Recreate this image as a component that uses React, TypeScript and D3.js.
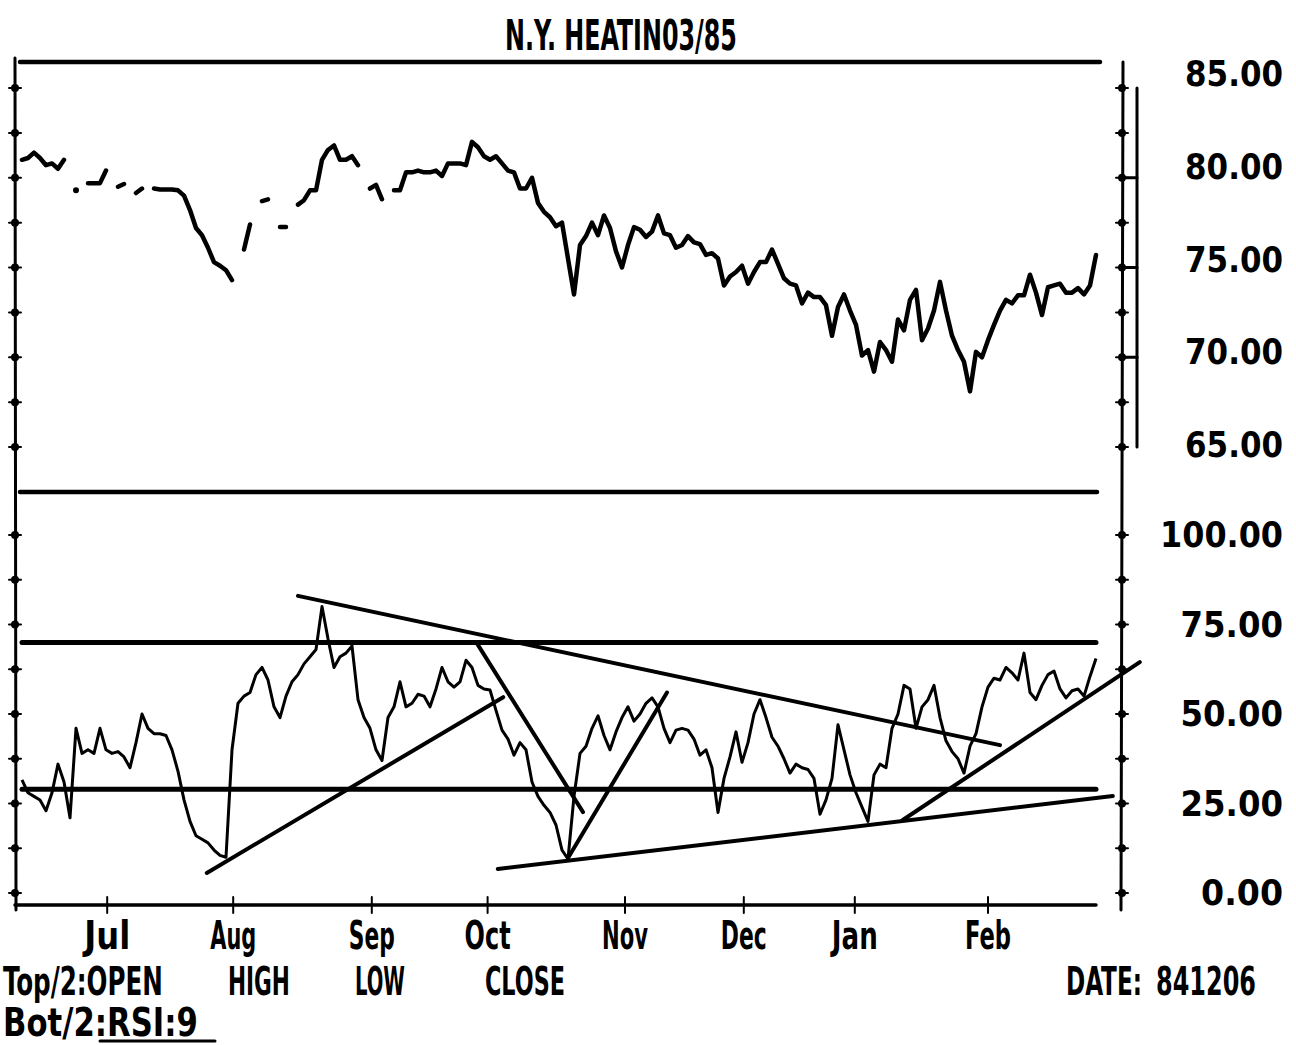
import * as React from 'react';
import {useEffect, useRef} from 'react';
import * as d3 from 'd3';

const title = 'N.Y. HEATIN03/85';

// daily closes, cents per gallon (null = no print that day)
const closes: (number | null)[] = [
  81.0, 81.1, 81.4, 81.1, 80.7, 80.8, 80.5, 81.0, null, 79.3,
  null, 79.7, 79.7, 79.7, 80.4, null, 79.5, 79.65, null, 79.15,
  79.4, null, 79.4, 79.35, 79.35, 79.35, 79.3, 79.0, 78.2, 77.2,
  76.8, 76.1, 75.3, 75.1, 74.85, 74.3, null, 76.0, 77.4, null,
  78.7, 78.8, null, 77.25, 77.25, null, 78.5, 78.75, 79.3, 79.3,
  81.0, 81.55, 81.8, 81.0, 81.0, 81.2, 80.7, null, 79.4, 79.6,
  78.8, null, 79.3, 79.3, 80.3, 80.3, 80.4, 80.3, 80.3, 80.4,
  80.1, 80.8, 80.8, 80.8, 80.7, 82.0, 81.7, 81.2, 81.0, 81.2,
  80.8, 80.4, 80.3, 79.4, 79.4, 80.0, 78.6, 78.1, 77.8, 77.3,
  77.5, 75.5, 73.5, 76.25, 76.75, 77.5, 76.8, 77.9, 77.2, 75.9,
  75.0, 76.25, 77.25, 77.1, 76.7, 77.0, 77.9, 76.9, 76.8, 76.1,
  76.25, 76.75, 76.4, 76.3, 75.7, 75.8, 75.5, 74.0, 74.5, 74.75,
  75.1, 74.1, 74.75, 75.3, 75.3, 76.0, 75.2, 74.4, 74.1, 74.0,
  73.0, 73.6, 73.35, 73.35, 72.9, 71.2, 72.8, 73.5, 72.6, 71.8,
  70.1, 70.4, 69.2, 70.85, 70.4, 69.75, 72.1, 71.5, 73.2, 73.75,
  70.95, 71.6, 72.6, 74.2, 72.6, 71.2, 70.4, 69.75, 68.1, 70.3,
  70.0, 70.95, 71.8, 72.6, 73.2, 73.0, 73.45, 73.45, 74.6, 73.6,
  72.35, 73.9, 74.0, 74.1, 73.6, 73.6, 73.85, 73.5, 74.0, 75.7,
];

// 9 day RSI
const rsi: number[] = [
  31.6, 28, 27, 26, 23, 28, 36, 31, 21, 46,
  39, 40, 39, 46, 40, 39, 39.5, 38, 35, 42,
  50, 46, 44.5, 44.5, 44, 40, 34, 26, 20, 16,
  15, 14, 12, 10.5, 10, 40, 53, 55, 56, 61,
  63, 59.5, 52, 49, 55, 59, 61, 64, 66, 68,
  80, 71, 63, 66, 67, 69, 54, 49, 46, 40,
  37, 49, 52, 59, 52, 53, 55.5, 55, 52, 57,
  63, 59, 57.5, 59, 65, 63, 58, 57, 56.7, 51,
  45.5, 43, 38.5, 42, 40, 31, 27, 24.5, 22.5, 19,
  12, 9.5, 27, 39, 41, 46, 49.5, 44, 40, 45,
  49, 52, 48, 50, 53, 54.5, 52, 46, 42, 45.5,
  46, 45.5, 43, 38.5, 40, 35, 22.5, 32, 38, 45,
  36.5, 42, 50, 54, 49, 43.5, 41, 37.5, 33.5, 36,
  35, 34.5, 32, 22, 26, 32, 47, 40, 33, 28,
  24, 20, 33, 36, 35, 46, 50, 58, 57, 46,
  52, 54, 58, 49, 42.5, 39.5, 37.5, 33.5, 41, 44.5,
  52, 57.5, 60, 59.5, 63, 61.5, 59.5, 67, 56, 54,
  58, 61, 62, 57, 54.5, 56.5, 57, 55, 60.5, 65.5,
];

const priceLabels = [85, 80, 75, 70, 65];
const rsiLabels = [100, 75, 50, 25, 0];
const rsiBands = [70, 29];

const months = ['Jul', 'Aug', 'Sep', 'Oct', 'Nov', 'Dec', 'Jan', 'Feb'];
const monthDays = [14.2, 35.2, 58.3, 77.6, 100.5, 120.3, 138.8, 161];

// trend lines drawn on the RSI panel, [day, rsi] end points
const trendLines: [number, number][][] = [
  [[46, 83], [163, 41.3]],
  [[30.8, 5.6], [80.2, 54.7]],
  [[75.8, 69.8], [93.5, 22.6]],
  [[91, 9.8], [107.5, 56]],
  [[79.3, 6.7], [181.8, 27.1]],
  [[146.8, 20.4], [186.3, 64.5]],
];

const FONT = "'DejaVu Sans Condensed', 'Liberation Sans Narrow', sans-serif";
const CAP = 0.729; // cap height / em for DejaVu

export default function App() {
  const ref = useRef<SVGSVGElement>(null);

  useEffect(() => {
    const svg = d3.select(ref.current);
    svg.selectAll('*').remove();

    const x = d3.scaleLinear().domain([0, closes.length - 1]).range([22, 1096]);
    const yP = d3.scaleLinear().domain([65, 85]).range([447, 88]);
    const yR = d3.scaleLinear().domain([0, 100]).range([893, 535]);
    // the printer puts the price labels on their own spacing
    const yPLabel = d3.scaleLinear().domain([65, 85]).range([457, 86]);

    // tall narrow printer lettering: fit the width, then stretch to the cap height
    const text = (s: string, tx: number, ty: number, capH: number, width: number, anchor = 'start') => {
      const t = svg.append('text')
        .attr('font-family', FONT).attr('font-weight', 'bold')
        .attr('font-size', 10)
        .text(s);
      const w10 = (t.node() as SVGTextElement).getComputedTextLength() || s.length * 6;
      const size = 10 * width / w10;
      const sy = capH / CAP / size;
      t.attr('font-size', size)
        .attr('text-anchor', anchor)
        .attr('transform', `translate(${tx},${ty}) scale(1,${sy})`);
      return t;
    };

    const line = (x1: number, y1: number, x2: number, y2: number, w: number) =>
      svg.append('line')
        .attr('x1', x1).attr('y1', y1).attr('x2', x2).attr('y2', y2)
        .attr('stroke', '#000').attr('stroke-width', w).attr('stroke-linecap', 'round');

    text(title, 621, 50, 31, 232, 'middle');

    // frame
    line(20, 62, 1100, 62, 4.5);
    line(20, 492, 1097, 492, 4.5);
    line(15, 58, 16, 910, 3);
    line(1123, 62, 1121, 910, 3);
    line(15, 905, 1096, 905, 3.5);
    line(1137, 88, 1137, 447, 3);

    const priceTicks = d3.range(65, 85.01, 2.5);
    const rsiTicks = d3.range(0, 100.01, 12.5);
    const tickYs = [...priceTicks.map(v => yP(v)), ...rsiTicks.map(v => yR(v))];
    tickYs.forEach(ty => {
      line(9, ty, 21, ty, 2);
      svg.append('circle').attr('cx', 15).attr('cy', ty).attr('r', 4).attr('fill', '#000');
      line(1116, ty, 1128, ty, 2);
      svg.append('circle').attr('cx', 1122).attr('cy', ty).attr('r', 4).attr('fill', '#000');
    });
    [80, 75, 70].forEach(v => line(1122, yP(v), 1137, yP(v), 3));

    // month ticks
    monthDays.forEach((d, i) => {
      line(x(d), 897, x(d), 913, 2);
      text(months[i], x(d), 949, 29, 46, 'middle');
    });

    // right labels
    priceLabels.forEach(v => text(v.toFixed(2), 1283, yPLabel(v), 26, 98, 'end'));
    rsiLabels.forEach(v => {
      const s = v.toFixed(2);
      text(s, 1283, yR(v) + 12, 26, s.length * 20.5, 'end');
    });

    // RSI bands and trend lines
    rsiBands.forEach(v => line(x(0), yR(v), x(179), yR(v), 5));
    trendLines.forEach(([a, b]) => line(x(a[0]), yR(a[1]), x(b[0]), yR(b[1]), 4));

    // price line
    const priceLine = d3.line<number | null>()
      .defined(v => v != null)
      .x((_, i) => x(i))
      .y(v => yP(v as number));
    svg.append('path')
      .attr('d', priceLine(closes))
      .attr('fill', 'none').attr('stroke', '#000')
      .attr('stroke-width', 4.5).attr('stroke-linejoin', 'round').attr('stroke-linecap', 'round');
    closes.forEach((v, i) => {
      if (v != null && closes[i - 1] == null && closes[i + 1] == null) {
        svg.append('circle').attr('cx', x(i)).attr('cy', yP(v)).attr('r', 3).attr('fill', '#000');
      }
    });

    // RSI line
    const rsiLine = d3.line<number>().x((_, i) => x(i)).y(v => yR(v));
    svg.append('path')
      .attr('d', rsiLine(rsi))
      .attr('fill', 'none').attr('stroke', '#000')
      .attr('stroke-width', 3).attr('stroke-linejoin', 'round');

    // footer
    text('Top/2:OPEN', 3, 995, 28, 160);
    text('HIGH', 228, 995, 28, 62);
    text('LOW', 355, 995, 28, 50);
    text('CLOSE', 485, 995, 28, 80);
    text('DATE:', 1066, 995, 28, 76);
    text('841206', 1156, 995, 28, 100);
    text('Bot/2:RSI:9', 3, 1036, 28, 195);
    line(100, 1041, 215, 1041, 3);
  }, []);

  return (
    <svg ref={ref} width={1296} height={1045}
      style={{position: 'absolute', left: 0, top: 0, background: '#fff'}}/>
  );
}
